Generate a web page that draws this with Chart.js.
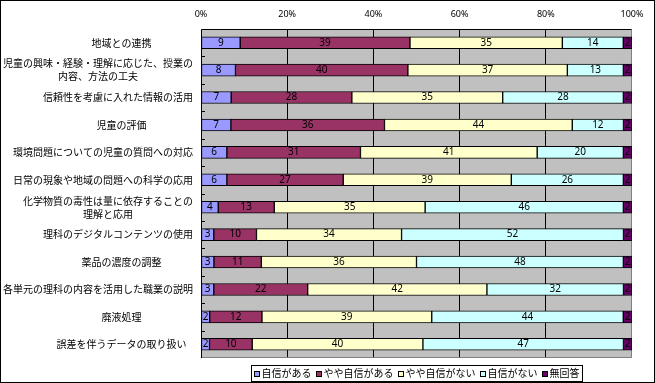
<!DOCTYPE html>
<html>
<head>
<meta charset="utf-8">
<script src="https://cdn.jsdelivr.net/npm/chart.js@4/dist/chart.umd.min.js"></script>
<style>
html,body{margin:0;padding:0;background:#fff;}
#wrap{width:655px;height:383px;position:relative;}
</style>
</head>
<body>
<div id="wrap"><canvas id="c" width="655" height="383"></canvas></div>
<script>
const categories = [
  ['地域との連携'],
  ['児童の興味・経験・理解に応じた、授業の', '内容、方法の工夫'],
  ['信頼性を考慮に入れた情報の活用'],
  ['児童の評価'],
  ['環境問題についての児童の質問への対応'],
  ['日常の現象や地域の問題への科学の応用'],
  ['化学物質の毒性は量に依存することの', '理解と応用'],
  ['理科のデジタルコンテンツの使用'],
  ['薬品の濃度の調整'],
  ['各単元の理科の内容を活用した職業の説明'],
  ['廃液処理'],
  ['誤差を伴うデータの取り扱い']
];
const seriesNames = ['自信がある', 'やや自信がある', 'やや自信がない', '自信がない', '無回答'];
const confident        = [9, 8, 7, 7, 6, 6, 4, 3, 3, 3, 2, 2];
const ratherConfident  = [39, 40, 28, 36, 31, 27, 13, 10, 11, 22, 12, 10];
const ratherNot        = [35, 37, 35, 44, 41, 39, 35, 34, 36, 42, 39, 40];
const notConfident     = [14, 13, 28, 12, 20, 26, 46, 52, 48, 32, 44, 47];
const noAnswer         = [2, 2, 2, 2, 2, 2, 2, 2, 2, 2, 2, 2];
const xTickValues = [0, 20, 40, 60, 80, 100];

const seriesValues = [confident, ratherConfident, ratherNot, notConfident, noAnswer];
const seriesColors = ['#9999FF', '#993366', '#FFFFCC', '#CCFFFF', '#660066'];

const totals = categories.map((_, i) => seriesValues.reduce((s, arr) => s + arr[i], 0));

const datasets = seriesValues.map((vals, k) => ({
  label: seriesNames[k],
  data: vals.map((v, i) => v / totals[i] * 100),
  raw: vals,
  backgroundColor: seriesColors[k],
  borderColor: '#000000',
  borderWidth: 1,
  borderSkipped: false,
  barThickness: 12
}));

const JP = '"Noto Sans CJK JP", "Noto Sans", sans-serif';

const decor = {
  id: 'decor',
  beforeDraw(chart) {
    const {ctx, chartArea: a} = chart;
    ctx.save();
    ctx.fillStyle = '#fff';
    ctx.fillRect(0, 0, chart.width, chart.height);
    ctx.fillStyle = '#C0C0C0';
    ctx.fillRect(a.left, a.top, a.right - a.left, a.bottom - a.top);
    ctx.restore();
  },
  beforeDatasetsDraw(chart) {
    const {ctx, chartArea: a} = chart;
    ctx.save();
    ctx.strokeStyle = '#808080';
    ctx.lineWidth = 1;
    ctx.beginPath();
    ctx.moveTo(a.left, Math.round(a.bottom) - 0.5);
    ctx.lineTo(Math.round(a.right) - 0.5, Math.round(a.bottom) - 0.5);
    ctx.lineTo(Math.round(a.right) - 0.5, Math.round(a.top) + 0.5);
    ctx.stroke();
    ctx.strokeStyle = '#000';
    ctx.beginPath();
    ctx.moveTo(Math.round(a.right) - 0.5, Math.round(a.top) + 0.5);
    ctx.lineTo(Math.round(a.left) + 0.5, Math.round(a.top) + 0.5);
    ctx.lineTo(Math.round(a.left) + 0.5, Math.round(a.bottom));
    ctx.stroke();
    const n = categories.length;
    const band = (a.bottom - a.top) / n;
    ctx.beginPath();
    for (let i = 1; i < n; i++) {
      const yy = Math.round(a.top + band * i) + 0.5;
      ctx.moveTo(a.left, yy);
      ctx.lineTo(a.left + 4, yy);
    }
    ctx.stroke();
    ctx.restore();
  },
  afterDatasetsDraw(chart) {
    const {ctx} = chart;
    ctx.save();
    ctx.font = '10px "Noto Sans", sans-serif';
    ctx.fillStyle = '#000';
    ctx.textAlign = 'center';
    ctx.textBaseline = 'middle';
    chart.data.datasets.forEach((ds, k) => {
      const meta = chart.getDatasetMeta(k);
      meta.data.forEach((el, i) => {
        const cx = (el.x + el.base) / 2;
        ctx.fillText(String(ds.raw[i]), cx, el.y);
      });
    });
    ctx.restore();
  },
  afterDraw(chart) {
    const {ctx, chartArea: a, scales} = chart;
    const y = scales.y;
    ctx.save();
    ctx.font = '10px ' + JP;
    ctx.fillStyle = '#000';
    ctx.textAlign = 'center';
    ctx.textBaseline = 'middle';
    const rightLimit = a.left - 8;
    const prefCenter = 121.5;
    categories.forEach((lines, i) => {
      const cy = y.getPixelForValue(i);
      const maxW = Math.max(...lines.map(l => ctx.measureText(l).width));
      const bc = Math.min(prefCenter, rightLimit - maxW / 2);
      lines.forEach((l, j) => {
        ctx.fillText(l, bc, cy + (j - (lines.length - 1) / 2) * 13);
      });
    });
    // legend
    ctx.font = '10px ' + JP;
    const pad = 3, mW = 6, mGap = 1.5, gap = 4.5;
    const widths = seriesNames.map(s => ctx.measureText(s).width);
    const total = pad * 2 + widths.reduce((s, w) => s + w + mW + mGap, 0) + gap * (seriesNames.length - 1);
    const lcx = (a.left + a.right) / 2;
    const lx = Math.round(lcx - total / 2);
    const ly = 365, lh = 16;
    ctx.strokeStyle = '#000';
    ctx.lineWidth = 1;
    ctx.strokeRect(lx + 0.5, ly + 0.5, Math.round(total), lh);
    let x = lx + pad;
    const my = ly + lh / 2 + 0.5;
    ctx.textAlign = 'left';
    seriesNames.forEach((s, k) => {
      ctx.fillStyle = seriesColors[k];
      ctx.fillRect(Math.round(x) + 0.5, Math.round(my - 3) + 0.5, mW - 1, mW - 1);
      ctx.strokeStyle = '#000';
      ctx.strokeRect(Math.round(x) + 0.5, Math.round(my - 3) + 0.5, mW - 1, mW - 1);
      x += mW + mGap;
      ctx.fillStyle = '#000';
      ctx.fillText(s, x, my);
      x += widths[k] + gap;
    });
    ctx.strokeStyle = '#000';
    ctx.strokeRect(0.5, 0.5, chart.width - 1, chart.height - 1);
    ctx.restore();
  }
};

new Chart(document.getElementById('c'), {
  type: 'bar',
  data: {
    labels: categories.map(l => l.join('')),
    datasets
  },
  options: {
    indexAxis: 'y',
    responsive: false,
    animation: false,
    devicePixelRatio: 1,
    layout: {padding: {left: 0, right: 23, top: 0, bottom: 25}},
    plugins: {legend: {display: false}, tooltip: {enabled: false}},
    scales: {
      x: {
        type: 'linear',
        position: 'top',
        stacked: true,
        min: 0,
        max: 100,
        afterBuildTicks(scale) { scale.ticks = xTickValues.map(v => ({value: v})); },
        afterFit(scale) { scale.height = 29; },
        ticks: {
          callback: v => v + '%',
          color: '#000',
          font: {family: '"Noto Sans", sans-serif', size: 9},
          padding: 9,
          maxRotation: 0
        },
        grid: {
          color: ctx => (ctx.tick && (ctx.tick.value === 0 || ctx.tick.value === 100)) ? 'rgba(0,0,0,0)' : '#000',
          lineWidth: 1,
          drawTicks: false
        },
        border: {display: false}
      },
      y: {
        stacked: true,
        afterFit(scale) { scale.width = 201; },
        ticks: {display: false},
        grid: {display: false},
        border: {display: false}
      }
    }
  },
  plugins: [decor]
});
</script>
</body>
</html>
